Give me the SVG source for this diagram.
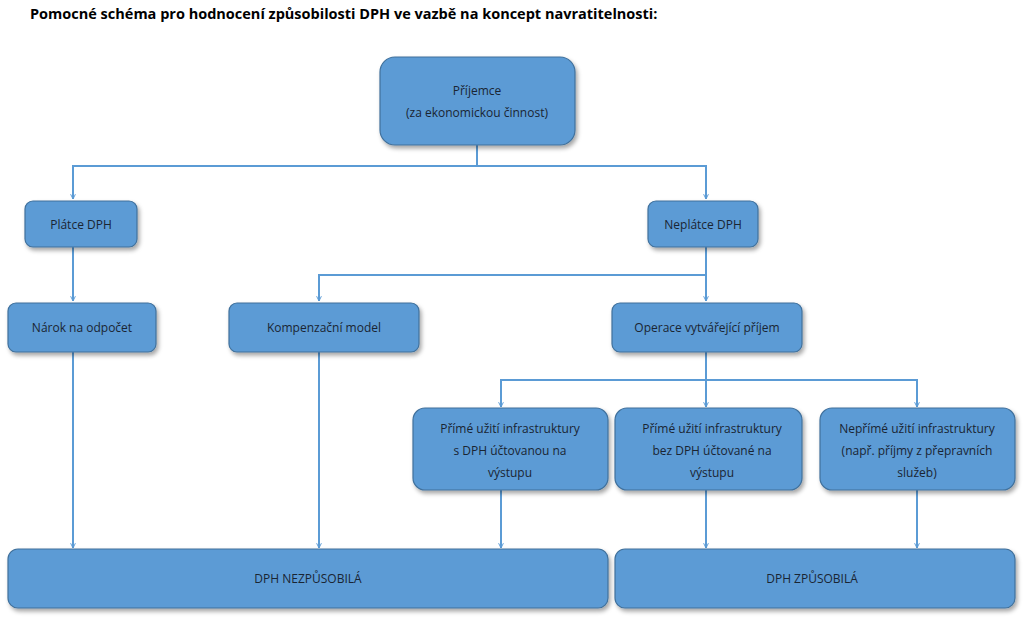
<svg xmlns="http://www.w3.org/2000/svg" width="1024" height="618" viewBox="0 0 1024 618">
<style>
.b{fill:#5B9BD5;stroke:#41719C;stroke-width:1.2;filter:url(#sh)}
.t{font-family:"Open Sans","Liberation Sans",sans-serif;font-size:12px;fill:#1A2533;text-anchor:middle}
.c{fill:none;stroke:#5B9BD5;stroke-width:2}
</style>
<defs>
<filter id="sh" x="-10%" y="-10%" width="130%" height="140%"><feDropShadow dx="2" dy="3" stdDeviation="2" flood-color="#000" flood-opacity="0.35"/></filter>
<marker id="a" viewBox="0 0 10 10" refX="9" refY="5" markerWidth="6" markerHeight="6" orient="auto" markerUnits="userSpaceOnUse"><path d="M1,1 L9,5 L1,9" fill="none" stroke="#5B9BD5" stroke-width="1.6"/></marker>
</defs>
<rect width="1024" height="618" fill="#fff"/>
<text x="30" y="19" font-family="Open Sans,Liberation Sans,sans-serif" font-size="14.5" font-weight="bold" fill="#000">Pomocné schéma pro hodnocení způsobilosti DPH ve vazbě na koncept navratitelnosti:</text>
<g id="connectors">
<path class="c" d="M477,145V166H73V199" marker-end="url(#a)"/>
<path class="c" d="M477,166H706V199" marker-end="url(#a)"/>
<path class="c" d="M73,247V301" marker-end="url(#a)"/>
<path class="c" d="M706,247V301" marker-end="url(#a)"/>
<path class="c" d="M706,275H319V301" marker-end="url(#a)"/>
<path class="c" d="M706,352V380H501V407" marker-end="url(#a)"/>
<path class="c" d="M706,380V407" marker-end="url(#a)"/>
<path class="c" d="M706,380H917V407" marker-end="url(#a)"/>
<path class="c" d="M73,352V548" marker-end="url(#a)"/>
<path class="c" d="M319,352V548" marker-end="url(#a)"/>
<path class="c" d="M501,490V548" marker-end="url(#a)"/>
<path class="c" d="M706,490V548" marker-end="url(#a)"/>
<path class="c" d="M917,490V548" marker-end="url(#a)"/>
</g>
<g id="prijemce"><rect class="b" x="380" y="57" width="195" height="88" rx="15"/><text class="t" x="477" y="95">Příjemce</text><text class="t" x="477" y="117">(za ekonomickou činnost)</text></g>
<g id="platce"><rect class="b" x="25" y="201" width="112" height="46" rx="8"/><text class="t" x="81" y="229">Plátce DPH</text></g>
<g id="neplatce"><rect class="b" x="648" y="201" width="110" height="46" rx="8"/><text class="t" x="703" y="229">Neplátce DPH</text></g>
<g id="narok"><rect class="b" x="8" y="303" width="148" height="49" rx="8"/><text class="t" x="82" y="332">Nárok na odpočet</text></g>
<g id="kompenzacni"><rect class="b" x="229" y="303" width="190" height="49" rx="8"/><text class="t" x="324" y="332">Kompenzační model</text></g>
<g id="operace"><rect class="b" x="612" y="303" width="190" height="49" rx="8"/><text class="t" x="707" y="332">Operace vytvářející příjem</text></g>
<g id="prime1"><rect class="b" x="413" y="408" width="195" height="82" rx="12"/><text class="t" x="510" y="433">Přímé užití infrastruktury</text><text class="t" x="510" y="455">s DPH účtovanou na</text><text class="t" x="510" y="477">výstupu</text></g>
<g id="prime2"><rect class="b" x="615" y="408" width="187" height="82" rx="12"/><text class="t" x="712" y="433">Přímé užití infrastruktury</text><text class="t" x="712" y="455">bez DPH účtované na</text><text class="t" x="712" y="477">výstupu</text></g>
<g id="neprime"><rect class="b" x="820" y="408" width="195" height="82" rx="12"/><text class="t" x="917" y="433">Nepřímé užití infrastruktury</text><text class="t" x="917" y="455">(např. příjmy z přepravních</text><text class="t" x="917" y="477">služeb)</text></g>
<g id="nezpusobila"><rect class="b" x="8" y="549" width="600" height="59" rx="10"/><text class="t" x="308" y="583">DPH NEZPŮSOBILÁ</text></g>
<g id="zpusobila"><rect class="b" x="615" y="549" width="400" height="59" rx="10"/><text class="t" x="812" y="583">DPH ZPŮSOBILÁ</text></g>
</svg>
